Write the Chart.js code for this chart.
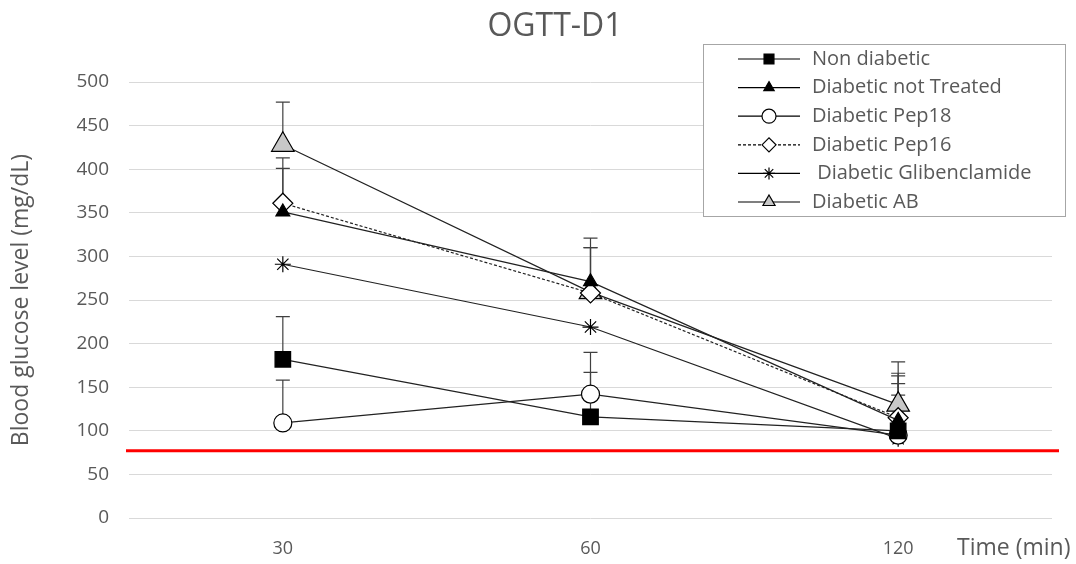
<!DOCTYPE html>
<html>
<head>
<meta charset="utf-8">
<script src="https://cdn.jsdelivr.net/npm/chart.js@4"></script>
<style>
  html, body { margin: 0; padding: 0; background: #fff; }
  #wrap { width: 1076px; height: 564px; }
</style>
</head>
<body>
<div id="wrap"><canvas id="ogtt"></canvas></div>
<script>
/* Data */
const timeLabels = ["30", "60", "120"];

const nonDiabetic = [182, 116, 100];
const diabeticNotTreated = [351, 271, 112];
const diabeticPep18 = [109, 142, 95];
const diabeticPep16 = [361, 258, 115];
const diabeticGlib = [291, 219, 91];
const diabeticAB = [428, 259, 130];

/* upper error bars (SD) */
const errNonDiabetic = [49, 51, 54];
const errNotTreated = [50, 50, 51];
const errPep18 = [49, 48, 46];
const errPep16 = [52, 52, 51];
const errGlib = [0, 0, 0];
const errAB = [49, 51, 49];

const yTicks = [0, 50, 100, 150, 200, 250, 300, 350, 400, 450, 500];
const thresholdValue = 77;

const FONT = "'Open Sans', 'Liberation Sans', sans-serif";
const TEXT = "#595959";

/* Series definitions */
const series = [
  { label: "Non diabetic", data: nonDiabetic, err: errNonDiabetic, pointStyle: "rect", radius: 11, fill: "#000", dash: [] },
  { label: "Diabetic not Treated", data: diabeticNotTreated, err: errNotTreated, pointStyle: "triangle", radius: 8, fill: "#000", dash: [] },
  { label: "Diabetic Pep18", data: diabeticPep18, err: errPep18, pointStyle: "circle", radius: 9, fill: "#fff", dash: [] },
  { label: "Diabetic Pep16", data: diabeticPep16, err: errPep16, pointStyle: "rectRot", radius: 10, fill: "#fff", dash: [3, 2] },
  { label: " Diabetic Glibenclamide", data: diabeticGlib, err: errGlib, pointStyle: "star", radius: 8, fill: "#fff", dash: [] },
  { label: "Diabetic AB", data: diabeticAB, err: errAB, pointStyle: "triangle", radius: 13, fill: "#c8c8c8", dash: [] },
];

/* legend marker sizes */
const legendRadius = [7, 6, 7, 7, 6, 7];

/* Error bars, threshold line, title, x title and legend */
const extras = {
  id: "extras",
  beforeDatasetsDraw(chart) {
    const { ctx, scales: { x, y } } = chart;
    ctx.save();
    ctx.strokeStyle = "#404040";
    ctx.lineWidth = 1.2;
    series.forEach((s) => {
      s.data.forEach((v, i) => {
        if (!s.err[i]) return;
        const px = x.getPixelForValue(i);
        const py0 = y.getPixelForValue(v);
        const py1 = y.getPixelForValue(v + s.err[i]);
        ctx.beginPath();
        ctx.moveTo(px, py0);
        ctx.lineTo(px, py1);
        ctx.moveTo(px - 7, py1);
        ctx.lineTo(px + 7, py1);
        ctx.stroke();
      });
    });
    ctx.restore();
  },
  afterDraw(chart) {
    const { ctx, chartArea, scales: { y } } = chart;
    ctx.save();
    // threshold line
    const ty = y.getPixelForValue(thresholdValue);
    ctx.strokeStyle = "#ff0000";
    ctx.lineWidth = 3;
    ctx.beginPath();
    ctx.moveTo(chartArea.left - 3, ty);
    ctx.lineTo(chartArea.right + 7, ty);
    ctx.stroke();

    // title
    ctx.fillStyle = TEXT;
    ctx.font = "32px " + FONT;
    ctx.textAlign = "center";
    ctx.textBaseline = "middle";
    ctx.fillText("OGTT-D1", 555, 27);

    // x axis title
    ctx.font = "23px " + FONT;
    ctx.textAlign = "left";
    ctx.fillText("Time (min)", 957, 548);

    // legend
    const bx = 703, by = 44, bw = 362, bh = 172;
    ctx.fillStyle = "#fff";
    ctx.fillRect(bx, by, bw, bh);
    ctx.strokeStyle = "#a6a6a6";
    ctx.lineWidth = 1;
    ctx.strokeRect(bx + 0.5, by + 0.5, bw, bh);
    series.forEach((s, i) => {
      const ry = 59 + i * 28.6;
      ctx.strokeStyle = "#000";
      ctx.lineWidth = 1.2;
      ctx.setLineDash(s.dash);
      ctx.beginPath();
      ctx.moveTo(738, ry);
      ctx.lineTo(800, ry);
      ctx.stroke();
      ctx.setLineDash([]);
      ctx.fillStyle = s.fill;
      ctx.strokeStyle = "#000";
      Chart.helpers.drawPoint(ctx, {
        pointStyle: s.pointStyle,
        radius: legendRadius[i],
        borderWidth: 1.2,
      }, 769, ry);
      ctx.fillStyle = TEXT;
      ctx.font = "20px " + FONT;
      ctx.textAlign = "left";
      ctx.textBaseline = "middle";
      ctx.fillText(s.label, 812, ry);
    });
    ctx.restore();
  },
};

new Chart(document.getElementById("ogtt"), {
  type: "line",
  plugins: [extras],
  data: {
    labels: timeLabels,
    datasets: series.map((s) => ({
      label: s.label,
      data: s.data,
      borderColor: "#222",
      borderWidth: 1.2,
      borderDash: s.dash,
      pointStyle: s.pointStyle,
      pointRadius: s.radius,
      pointBackgroundColor: s.fill,
      pointBorderColor: "#000",
      pointBorderWidth: 1.2,
      tension: 0,
    })),
  },
  options: {
    responsive: true,
    maintainAspectRatio: false,
    animation: false,
    layout: { padding: { top: 82, right: 24, bottom: 0, left: 0 } },
    plugins: {
      legend: { display: false },
      title: { display: false },
      tooltip: { enabled: false },
    },
    scales: {
      x: {
        offset: true,
        afterFit: (scale) => { scale.height = 46; },
        grid: { display: false, drawTicks: false },
        border: { display: false },
        ticks: { color: TEXT, font: { family: FONT, size: 18 }, padding: 20 },
      },
      y: {
        min: 0,
        max: 500,
        afterFit: (scale) => { scale.width = 129; },
        afterBuildTicks: (scale) => {
          scale.ticks = yTicks.map((v) => ({ value: v }));
        },
        grid: { color: "#d9d9d9", drawTicks: false },
        border: { display: false },
        ticks: { color: TEXT, font: { family: FONT, size: 19 }, padding: 20 },
        title: {
          display: true,
          text: "Blood glucose level (mg/dL)",
          color: TEXT,
          font: { family: FONT, size: 23 },
          padding: { top: 8, bottom: 0 },
        },
      },
    },
  },
});
</script>
</body>
</html>
